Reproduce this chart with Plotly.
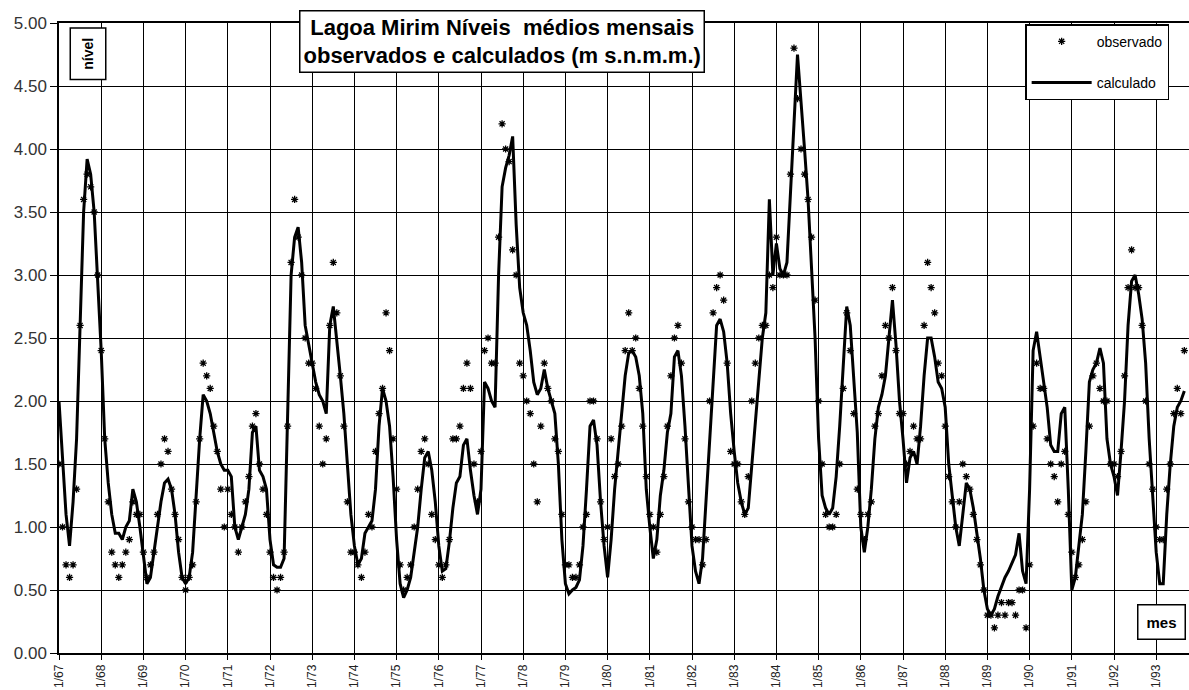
import plotly.graph_objects as go

# Monthly levels (m s.n.m.m.), Jan 1967 .. Sep 1993
calculado = [
    2.0, 1.5, 1.1, 0.85, 1.2, 1.7, 2.6, 3.5, 3.92, 3.8, 3.5, 3.0,       # 1967
    2.4, 1.7, 1.35, 1.1, 0.95, 0.95, 0.9, 1.0, 1.05, 1.3, 1.2, 1.0,      # 1968
    0.75, 0.55, 0.6, 0.8, 1.0, 1.2, 1.35, 1.38, 1.3, 1.1, 0.8, 0.6,      # 1969
    0.55, 0.6, 0.8, 1.3, 1.7, 2.05, 2.0, 1.9, 1.75, 1.6, 1.5, 1.45,      # 1970
    1.45, 1.4, 1.0, 0.9, 1.0, 1.1, 1.3, 1.75, 1.8, 1.45, 1.4, 1.3,       # 1971
    0.9, 0.7, 0.68, 0.68, 0.75, 1.8, 3.0, 3.3, 3.38, 3.1, 2.6, 2.45,     # 1972
    2.3, 2.15, 2.05, 2.0, 1.9, 2.6, 2.75, 2.5, 2.2, 1.9, 1.5, 1.1,       # 1973
    0.85, 0.7, 0.75, 0.95, 1.0, 1.05, 1.3, 1.8, 2.1, 2.0, 1.8, 1.4,      # 1974
    0.9, 0.55, 0.44, 0.5, 0.6, 0.8, 1.0, 1.3, 1.55, 1.6, 1.45, 1.2,      # 1975
    0.85, 0.65, 0.67, 0.88, 1.15, 1.35, 1.4, 1.65, 1.7, 1.45, 1.25, 1.1, # 1976
    1.3, 2.15, 2.1, 2.0, 1.95, 3.0, 3.7, 3.85, 3.95, 4.1, 3.4, 2.9,      # 1977
    2.7, 2.6, 2.4, 2.15, 2.05, 2.1, 2.25, 2.1, 2.0, 1.9, 1.5, 0.9,       # 1978
    0.55, 0.47, 0.5, 0.52, 0.58, 0.85, 1.3, 1.8, 1.85, 1.65, 1.2, 0.85,  # 1979
    0.6, 0.9, 1.3, 1.6, 1.95, 2.2, 2.38, 2.4, 2.35, 2.2, 1.9, 1.3,       # 1980
    1.0, 0.75, 0.9, 1.25, 1.45, 1.75, 1.9, 2.35, 2.4, 2.2, 1.8, 1.3,     # 1981
    0.85, 0.65, 0.55, 0.75, 1.2, 1.7, 2.15, 2.6, 2.65, 2.55, 2.3, 1.9,   # 1982
    1.6, 1.35, 1.2, 1.1, 1.15, 1.5, 1.85, 2.2, 2.5, 2.7, 3.6, 3.0,       # 1983
    3.25, 3.05, 3.0, 3.1, 3.6, 4.2, 4.75, 4.4, 4.0, 3.6, 3.0, 2.5,       # 1984
    1.7, 1.25, 1.15, 1.1, 1.15, 1.4, 1.8, 2.3, 2.75, 2.6, 2.2, 1.75,     # 1985
    1.0, 0.8, 1.0, 1.3, 1.7, 1.95, 2.05, 2.2, 2.5, 2.8, 2.45, 2.0,       # 1986
    1.7, 1.35, 1.55, 1.6, 1.5, 1.8, 2.2, 2.5, 2.5, 2.35, 2.15, 2.1,      # 1987
    1.95, 1.5, 1.25, 1.0, 0.85, 1.1, 1.35, 1.3, 1.15, 0.95, 0.75, 0.5,   # 1988
    0.35, 0.3, 0.35, 0.45, 0.52, 0.6, 0.65, 0.72, 0.78, 0.95, 0.65, 0.55,# 1989
    1.3, 2.4, 2.55, 2.35, 2.15, 1.95, 1.65, 1.6, 1.6, 1.9, 1.95, 1.3,    # 1990
    0.5, 0.6, 0.85, 1.1, 1.6, 2.15, 2.25, 2.3, 2.42, 2.3, 1.7, 1.5,      # 1991
    1.4, 1.25, 1.6, 2.0, 2.6, 2.95, 3.0, 2.85, 2.65, 2.3, 1.7, 1.2,      # 1992
    0.8, 0.55, 0.55, 1.1, 1.5, 1.8, 1.95, 2.0, 2.08,                     # 1993
]

observado = [
    1.5, 1.0, 0.7, 0.6, 0.7, 1.3, 2.6, 3.6, 3.8, 3.7, 3.5, 3.0,          # 1967
    2.4, 1.7, 1.2, 0.8, 0.7, 0.6, 0.7, 0.8, 0.9, 1.2, 1.1, 1.1,          # 1968
    0.8, 0.6, 0.7, 0.8, 1.1, 1.5, 1.7, 1.6, 1.3, 1.1, 0.9, 0.6,          # 1969
    0.5, 0.6, 0.7, 1.2, 1.7, 2.3, 2.2, 2.1, 1.8, 1.6, 1.3, 1.0,          # 1970
    1.3, 1.1, 1.0, 0.8, 1.0, 1.2, 1.4, 1.8, 1.9, 1.5, 1.3, 1.1,          # 1971
    0.8, 0.6, 0.5, 0.6, 0.8, 1.8, 3.1, 3.6, 3.3, 3.0, 2.5, 2.3,          # 1972
    2.3, 2.1, 1.8, 1.5, 1.7, 2.6, 3.1, 2.7, 2.2, 1.8, 1.2, 0.8,          # 1973
    0.8, 0.7, 0.6, 0.8, 1.1, 1.0, 1.6, 1.9, 2.1, 2.7, 2.4, 1.7,          # 1974
    1.3, 0.7, 0.5, 0.6, 0.7, 1.0, 1.3, 1.6, 1.7, 1.5, 1.1, 0.9,          # 1975
    0.7, 0.6, 0.7, 0.9, 1.7, 1.7, 1.8, 2.1, 2.3, 2.1, 1.5, 1.2,          # 1976
    1.6, 2.4, 2.5, 2.3, 2.3, 3.3, 4.2, 4.0, 3.9, 3.2, 3.0, 2.3,          # 1977
    2.2, 2.0, 1.9, 1.5, 1.2, 1.8, 2.3, 2.1, 2.0, 1.7, 1.6, 1.1,          # 1978
    0.7, 0.7, 0.6, 0.6, 0.7, 1.0, 1.1, 2.0, 2.0, 1.7, 1.2, 0.9,          # 1979
    1.0, 1.7, 1.4, 1.5, 1.8, 2.4, 2.7, 2.4, 2.5, 2.1, 1.8, 1.4,          # 1980
    1.1, 1.0, 0.8, 1.1, 1.4, 1.8, 2.2, 2.5, 2.6, 2.3, 1.7, 1.2,          # 1981
    1.0, 0.9, 0.9, 0.7, 0.9, 2.0, 2.7, 2.9, 3.0, 2.8, 2.3, 1.6,          # 1982
    1.5, 1.5, 1.2, 1.1, 1.4, 2.0, 2.3, 2.5, 2.6, 2.6, 3.0, 2.9,          # 1983
    3.3, 3.0, 3.0, 3.0, 3.8, 4.8, 4.4, 4.0, 3.8, 3.6, 3.3, 2.8,          # 1984
    2.0, 1.5, 1.1, 1.0, 1.0, 1.1, 1.5, 2.1, 2.7, 2.4, 1.9, 1.3,          # 1985
    1.1, 0.9, 1.1, 1.2, 1.8, 1.9, 2.2, 2.6, 2.5, 2.9, 2.4, 1.9,          # 1986
    1.9, 1.5, 1.6, 1.8, 1.7, 1.7, 2.6, 3.1, 2.9, 2.7, 2.3, 2.2,          # 1987
    1.8, 1.4, 1.2, 1.0, 1.2, 1.5, 1.4, 1.3, 1.1, 0.9, 0.7, 0.5,          # 1988
    0.3, 0.3, 0.2, 0.3, 0.4, 0.3, 0.4, 0.4, 0.3, 0.5, 0.5, 0.2,          # 1989
    0.7, 1.8, 2.3, 2.1, 2.1, 1.7, 1.5, 1.4, 1.2, 1.5, 1.6, 1.1,          # 1990
    0.8, 0.6, 0.7, 0.9, 1.2, 1.8, 2.2, 2.3, 2.1, 2.0, 2.0, 1.5,          # 1991
    1.5, 1.4, 1.6, 2.2, 2.9, 3.2, 2.9, 2.9, 2.6, 2.0, 1.5, 1.3,          # 1992
    1.0, 0.9, 0.9, 1.3, 1.5, 1.9, 2.1, 1.9, 2.4,                         # 1993
]

anos = list(range(1967, 1994))
rotulos_x = ["1/%02d" % (a % 100) for a in anos]
inicio = 1967

meses = [inicio + i / 12 for i in range(len(calculado))]

FONT = "Liberation Sans, Arial, sans-serif"

fig = go.Figure()
fig.add_trace(go.Scatter(
    x=meses, y=calculado, mode="lines", name="calculado",
    line=dict(color="black", width=3), legendrank=2, legendgroup="b",
))
fig.add_trace(go.Scatter(
    x=meses, y=observado, mode="markers", name="observado",
    marker=dict(symbol="asterisk-open", size=6, color="black",
                line=dict(color="black", width=1.3)),
    legendrank=1, legendgroup="a",
))

fig.update_layout(
    width=1189, height=690,
    margin=dict(l=59, r=0, t=23, b=37),
    paper_bgcolor="white", plot_bgcolor="white",
    font=dict(family=FONT, color="black"),
    showlegend=True,
    legend=dict(
        x=0.855, y=0.998, xanchor="left", yanchor="top",
        bgcolor="white", bordercolor="black", borderwidth=1.5,
        font=dict(size=14, family=FONT, color="black"),
        tracegroupgap=20, itemwidth=60,
    ),
    xaxis=dict(
        range=[inicio, inicio + 1130 / 42.2],
        tickmode="array", tickvals=anos, ticktext=rotulos_x,
        tickangle=-90, tickfont=dict(size=12, family=FONT, color="#222"),
        showgrid=True, gridcolor="black", gridwidth=1.3,
        showline=True, linecolor="black", linewidth=1.5, mirror=True,
        ticks="outside", ticklen=5, tickcolor="black", zeroline=False,
    ),
    yaxis=dict(
        range=[0, 5], tick0=0, dtick=0.5, tickformat=".2f",
        tickfont=dict(size=17, family=FONT, color="#333"),
        showgrid=True, gridcolor="black", gridwidth=1.3,
        showline=True, linecolor="black", linewidth=1.5,
        ticks="outside", ticklen=7, tickcolor="black", zeroline=False,
    ),
    annotations=[
        dict(
            text="<b>Lagoa Mirim Níveis  médios mensais<br>observados e calculados (m s.n.m.m.)</b>",
            xref="paper", yref="paper", x=0.392, y=0.971,
            xanchor="center", yanchor="middle", showarrow=False,
            font=dict(size=22, family=FONT, color="black"),
            bgcolor="white", bordercolor="black", borderwidth=1.5, borderpad=3,
        ),
        dict(
            text="<b>nível</b>", textangle=-90,
            xref="paper", yref="paper", x=0.026, y=0.951,
            xanchor="center", yanchor="middle", showarrow=False,
            font=dict(size=14, family=FONT, color="black"),
            bgcolor="white", bordercolor="black", borderwidth=1.5, borderpad=9,
        ),
        dict(
            text="<b>mes</b>",
            xref="paper", yref="paper", x=0.997, y=0.049,
            xanchor="right", yanchor="middle", showarrow=False,
            font=dict(size=15, family=FONT, color="black"),
            bgcolor="white", bordercolor="black", borderwidth=1.5, borderpad=8,
        ),
    ],
)

fig.write_html(
    "out.html",
    config={"displayModeBar": False},
    post_script="document.body.style.margin='0';document.body.style.overflow='hidden';",
)
